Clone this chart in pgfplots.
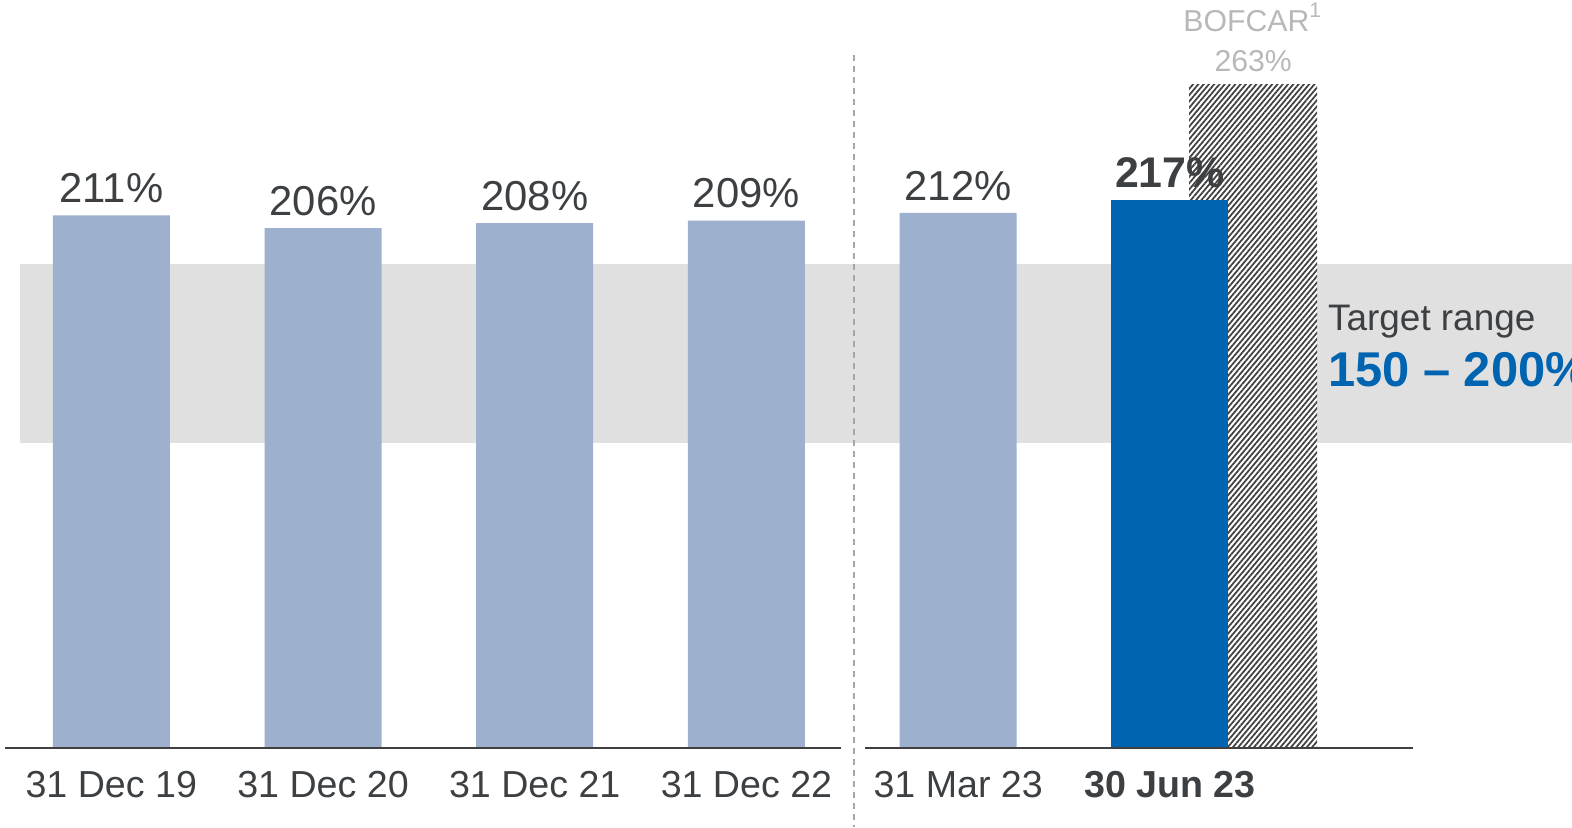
\documentclass[border=0pt]{standalone}
\usepackage{fontspec}
\setmainfont{Liberation Sans}
\usepackage{pgfplots}
\pgfplotsset{compat=1.18}
\usetikzlibrary{patterns.meta}
\definecolor{barlight}{HTML}{9DB0CE}
\definecolor{barblue}{HTML}{0064B1}
\definecolor{band}{HTML}{E0E0E0}
\definecolor{txt}{HTML}{3C4043}
\definecolor{axisc}{HTML}{404040}
\definecolor{bofcar}{HTML}{B8B8B8}

\begin{document}
\begin{tikzpicture}
\begin{axis}[
  scale only axis, width=15.72cm, height=8.27cm,
  xmin=-0.5256, xmax=6.899, ymin=-31.4, ymax=296.4,
  axis line style={draw=none}, major tick length=0pt, ytick=\empty,
  xtick={0,...,5},
  xticklabels={31 Dec 19,31 Dec 20,31 Dec 21,31 Dec 22,31 Mar 23,\textbf{30 Jun 23}},
  xticklabel style={font=\fontsize{10.7}{12}\selectfont, text=txt, anchor=base, inner sep=0pt, yshift=3mm},
  clip=false,
  /pgf/number format/assume math mode=true,
  barlbl/.style={nodes near coords={\pgfmathprintnumber{\pgfplotspointmeta}\%},
    every node near coord/.append style={font=\fontsize{11.9}{14}\selectfont, text=txt}},
]
% target band
\addplot[fill=band, draw=none] coordinates {(-0.431,120.8) (7.2,120.8) (7.2,191.9) (-0.431,191.9)} -- cycle;
% divider
\addplot[draw=gray!70, dash pattern=on 0.6mm off 0.5mm, line width=0.45pt] coordinates {(3.507,274.5) (3.507,-31.4)};
% BOFCAR bar
\addplot[ybar, bar shift=0pt, bar width=1.28cm, fill=white, draw=none] coordinates {(5.393,263)};
\addplot[ybar, bar shift=0pt, bar width=1.28cm, draw=none,
  pattern={Lines[angle=50,distance=1.15pt,line width=0.5pt]}, pattern color=axisc,
  nodes near coords={BOFCAR\textsuperscript{\fontsize{6}{6}\selectfont 1}\\263\%},
  every node near coord/.append style={align=center, font=\fontsize{8.6}{11.5}\selectfont, text=bofcar}]
  coordinates {(5.393,263)};
% CAR bars
\addplot[ybar, bar shift=0pt, bar width=1.17cm, fill=barlight, draw=none, barlbl]
  coordinates {(0,211) (1,206) (2,208) (3,209) (4,212)};
\addplot[ybar, bar shift=0pt, bar width=1.17cm, fill=barblue, draw=none, barlbl,
  every node near coord/.append style={font=\bfseries\fontsize{12.2}{14}\selectfont}]
  coordinates {(5,217)};
% baselines
\addplot[axisc, line width=0.6pt] coordinates {(-0.502,0) (3.445,0)};
\addplot[axisc, line width=0.6pt] coordinates {(3.559,0) (6.147,0)};
\node[anchor=base west, inner sep=0pt, font=\fontsize{10.5}{12}\selectfont, text=txt] at (axis cs:5.744,165.3) {Target range};
\node[anchor=base west, inner sep=0pt, font=\bfseries\fontsize{13.9}{16}\selectfont, text=barblue] at (axis cs:5.744,143.4) {150 -- 200\%};
\end{axis}
\pgfresetboundingbox
\useasboundingbox (current axis.south west) rectangle (current axis.north east);
\end{tikzpicture}
\end{document}
